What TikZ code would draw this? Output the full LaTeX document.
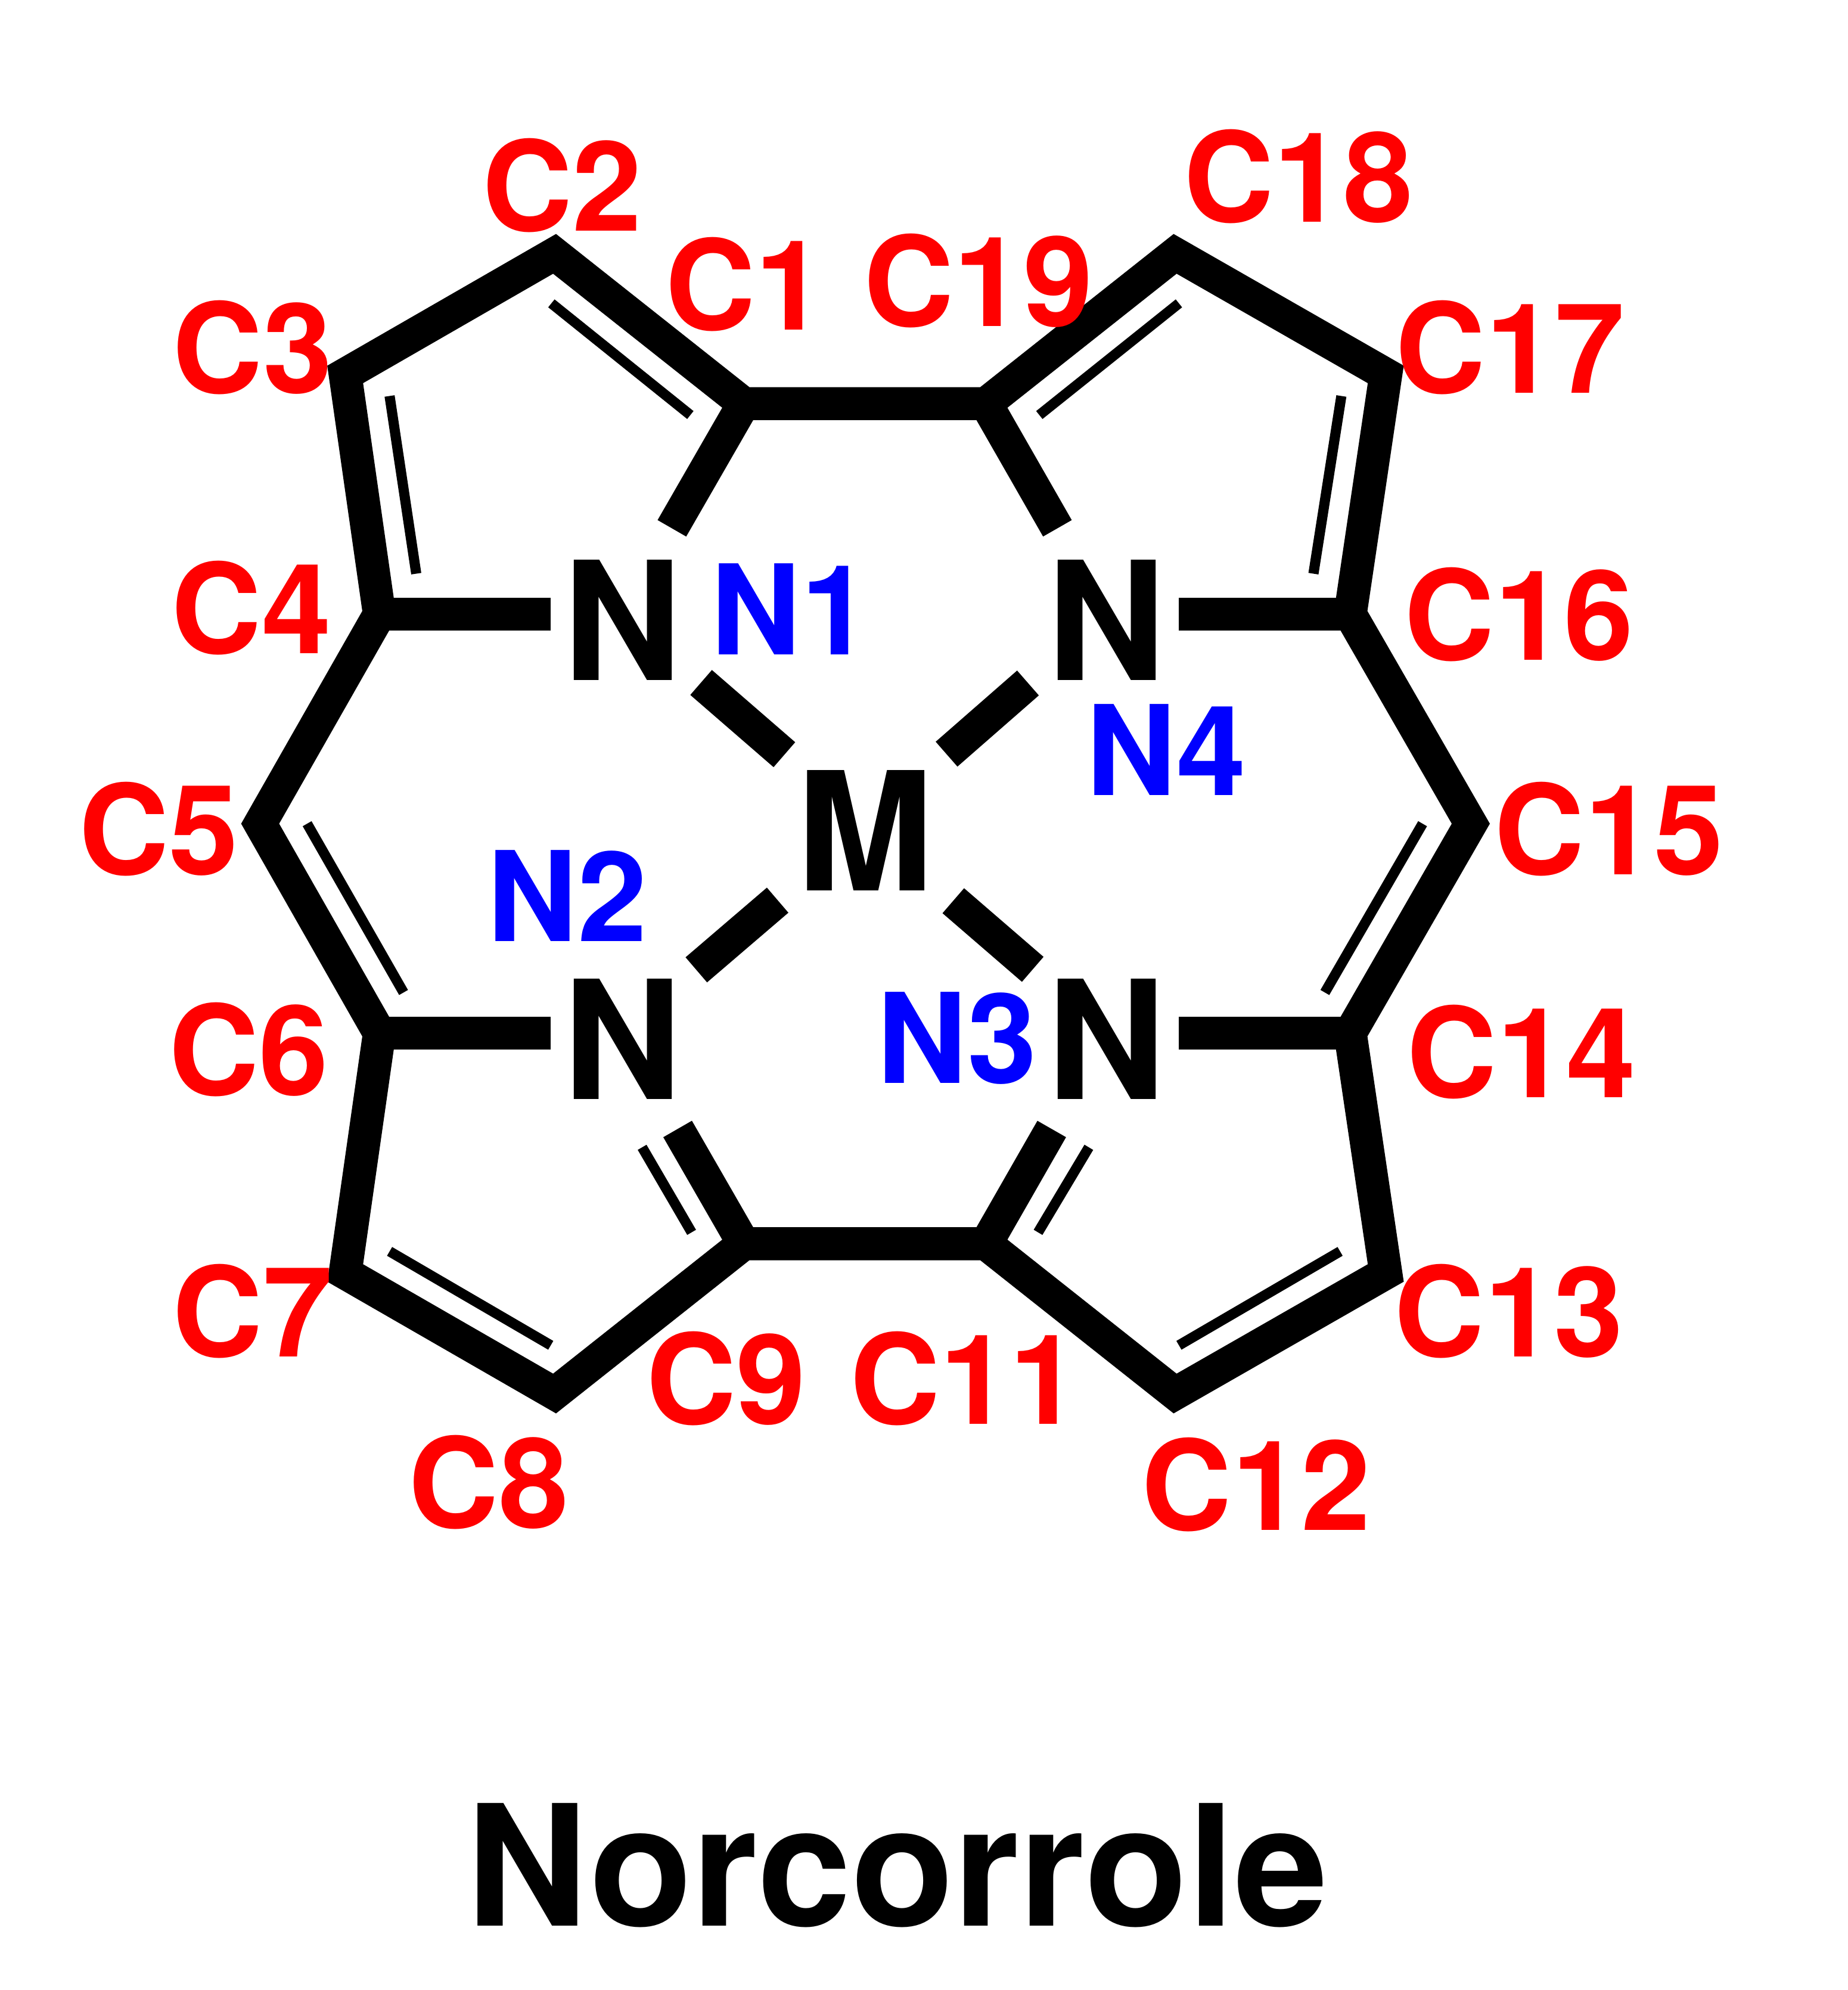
\documentclass[tikz,border=0pt]{standalone}
\usepackage{fontspec}
\setmainfont{TeX Gyre Heros}
\usepackage{xcolor}
\tikzset{
  bond/.style={line width=0.26cm, line join=miter, line cap=butt},
  dblbond/.style={line width=0.08cm},
  atom/.style={font=\fontsize{37}{40}\bfseries\selectfont, inner xsep=0.09cm, inner ysep=0.15cm, text height=1.04cm},
  clabel/.style={font=\fontsize{28}{30}\bfseries\selectfont, text=red, inner sep=0pt},
  nlabel/.style={font=\fontsize{28}{30}\bfseries\selectfont, text=blue, inner sep=0pt},
  ttl/.style={font=\fontsize{37.7}{40}\bfseries\selectfont, inner sep=0pt},
}
\begin{document}
\begin{tikzpicture}[x=0.01cm,y=-0.01cm]
\useasboundingbox (0,0) rectangle (1456,1568);
\coordinate (c1) at (586,318);
\coordinate (c2) at (437,200);
\coordinate (c3) at (272,295);
\coordinate (c4) at (299,484);
\coordinate (c5) at (205,649);
\coordinate (c6) at (299,814);
\coordinate (c7) at (272,1003);
\coordinate (c8) at (437,1098);
\coordinate (c9) at (586,980);
\coordinate (c11) at (777,980);
\coordinate (c12) at (926,1098);
\coordinate (c13) at (1092,1003);
\coordinate (c14) at (1064,814);
\coordinate (c15) at (1159,649);
\coordinate (c16) at (1064,484);
\coordinate (c17) at (1092,295);
\coordinate (c18) at (926,200);
\coordinate (c19) at (777,318);
\node[atom] (n1) at (490.5,484) {N};
\node[atom] (n2) at (490.5,814) {N};
\node[atom] (n3) at (872,814) {N};
\node[atom] (n4) at (872,484) {N};
\node[atom] (m) at (682,650) {M};
\draw[bond] (c1) -- (c2) -- (c3) -- (c4) -- (c5) -- (c6) -- (c7) -- (c8) -- (c9) -- (c11) -- (c12) -- (c13) -- (c14) -- (c15) -- (c16) -- (c17) -- (c18) -- (c19) -- cycle;
\draw[bond] (c1) -- (n1);
\draw[bond] (c4) -- (n1);
\draw[bond] (c6) -- (n2);
\draw[bond, shorten >=0.09cm] (c9) -- (n2);
\draw[bond, shorten >=0.09cm] (c11) -- (n3);
\draw[bond] (c14) -- (n3);
\draw[bond] (c16) -- (n4);
\draw[bond] (c19) -- (n4);
\draw[bond, shorten <=0.07cm] (n1) -- (m);
\draw[bond, shorten <=0.02cm, shorten >=0.07cm] (n2) -- (m);
\draw[bond, shorten <=0.02cm, shorten >=0.07cm] (n3) -- (m);
\draw[bond, shorten <=0.07cm] (n4) -- (m);
\coordinate (d1a) at (434.5,239);
\coordinate (d1b) at (544,327);
\coordinate (d2a) at (307,312);
\coordinate (d2b) at (328,452);
\coordinate (d3a) at (242,649);
\coordinate (d3b) at (318,782);
\coordinate (d4a) at (506,904);
\coordinate (d4b) at (545,971);
\coordinate (d5a) at (307,986);
\coordinate (d5b) at (434,1060);
\coordinate (d6a) at (858,904);
\coordinate (d6b) at (818,971);
\coordinate (d7a) at (1056,986);
\coordinate (d7b) at (929,1060);
\coordinate (d8a) at (1121,649);
\coordinate (d8b) at (1044,782);
\coordinate (d9a) at (1057,312);
\coordinate (d9b) at (1035,452);
\coordinate (d10a) at (929,239);
\coordinate (d10b) at (819,327);
\draw[dblbond] (d1a) -- (d1b);
\draw[dblbond] (d2a) -- (d2b);
\draw[dblbond] (d3a) -- (d3b);
\draw[dblbond] (d4a) -- (d4b);
\draw[dblbond] (d5a) -- (d5b);
\draw[dblbond] (d6a) -- (d6b);
\draw[dblbond] (d7a) -- (d7b);
\draw[dblbond] (d8a) -- (d8b);
\draw[dblbond] (d9a) -- (d9b);
\draw[dblbond] (d10a) -- (d10b);
\node[clabel] (lc1) at (587,224) {C1};
\node[clabel] (lc2) at (443,146) {C2};
\node[clabel] (lc3) at (199,274) {C3};
\node[clabel] (lc4) at (198,479) {C4};
\node[clabel] (lc5) at (125,653) {C5};
\node[clabel] (lc6) at (196,827) {C6};
\node[clabel] (lc7) at (199,1033) {C7};
\node[clabel] (lc8) at (385,1168) {C8};
\node[clabel] (lc9) at (572,1086) {C9};
\node[clabel] (lc11) at (760,1086) {C11};
\node[clabel] (lc12) at (990,1170) {C12};
\node[clabel] (lc13) at (1189,1033) {C13};
\node[clabel] (lc14) at (1199,829) {C14};
\node[clabel] (lc15) at (1268,653) {C15};
\node[clabel] (lc16) at (1197,484) {C16};
\node[clabel] (lc17) at (1190,274) {C17};
\node[clabel] (lc18) at (1023,139) {C18};
\node[clabel] (lc19) at (771,221) {C19};
\node[nlabel] (ln1) at (623,480) {N1};
\node[nlabel] (ln2) at (447,706) {N2};
\node[nlabel] (ln3) at (754,818) {N3};
\node[nlabel] (ln4) at (919,591) {N4};
\node[ttl] (title) at (707,1470) {Norcorrole};
\end{tikzpicture}
\end{document}
